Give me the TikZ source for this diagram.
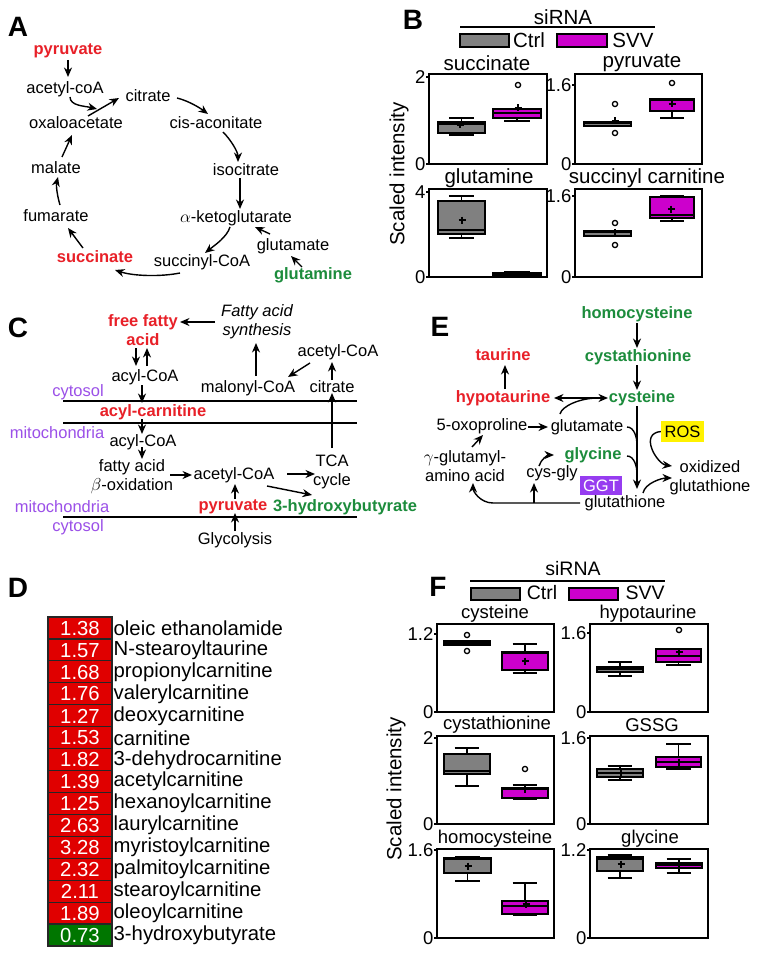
\documentclass[tikz,border=0pt]{standalone}
\usepackage{fontspec}
\setmainfont{Liberation Sans}
\usetikzlibrary{arrows.meta,calc}
\definecolor{tRed}{RGB}{232,32,40}
\definecolor{tGreen}{RGB}{28,140,60}
\definecolor{tPurple}{RGB}{155,80,232}
\definecolor{cellRed}{RGB}{224,0,0}
\definecolor{cellGreen}{RGB}{0,118,0}
\definecolor{ggtPurple}{RGB}{150,60,240}
\definecolor{boxGray}{RGB}{128,128,128}
\definecolor{boxMag}{RGB}{204,0,204}
\newcommand{\bxp}[8]{%
  \pgfmathsetmacro\bxc{(#1+#2)/2}%
  \pgfmathsetmacro\bxw{(#2-#1)*0.27}%
  \draw[bpl] (\bxc,#3) -- (\bxc,#7);
  \draw[bpl] (\bxc-\bxw,#3) -- (\bxc+\bxw,#3);
  \draw[bpl] (\bxc-\bxw,#7) -- (\bxc+\bxw,#7);
  \filldraw[bpl, fill=#8] (#1,#4) rectangle (#2,#6);
  \draw[bpl] (#1,#5) -- (#2,#5);
}
\newcommand{\mpl}[2]{\draw[bpl] (#1-3.5,#2) -- (#1+3.5,#2) (#1,#2-3.5) -- (#1,#2+3.5);}
\newcommand{\outl}[2]{\draw[bpl] (#1,#2) circle[radius=2.6];}
\newcommand{\ytk}[4]{\draw[frm] (#2,#3) -- (#2-3,#3); \node[axl] (#1) at (#2-3.5,#3) {#4};}
\begin{document}
\begin{tikzpicture}[x=1pt,y=-1pt,
  lab/.style={font=\fontsize{28}{30}\selectfont\bfseries, inner sep=0pt},
  pw/.style={font=\fontsize{16.5}{19}\selectfont, inner sep=0pt, align=center},
  pwb/.style={font=\fontsize{16.5}{19}\selectfont\bfseries, inner sep=0pt, align=center},
  rb/.style={pwb, text=tRed},
  gb/.style={pwb, text=tGreen},
  cmp/.style={pw, text=tPurple},
  ttl/.style={font=\fontsize{20.5}{22}\selectfont, inner sep=0pt},
  lgF/.style={font=\fontsize{19.5}{21}\selectfont, inner sep=0pt},
  ttlF/.style={font=\fontsize{18.5}{20}\selectfont, inner sep=0pt},
  axl/.style={font=\fontsize{18.5}{20}\selectfont, inner sep=0pt, anchor=east},
  dtxt/.style={font=\fontsize{20.3}{22}\selectfont, inner sep=0pt},
  arr/.style={-{Stealth[length=9.5pt,width=8pt]}, line width=1.4pt},
  darr/.style={{Stealth[length=9.5pt,width=8pt]}-{Stealth[length=9.5pt,width=8pt]}, line width=1.4pt},
  bpl/.style={line width=1.3pt},
  frm/.style={line width=1.8pt},
  memb/.style={line width=2.7pt}]
\useasboundingbox (0,0) rectangle (762,955);
\fill[white] (0,0) rectangle (762,955);

% ================= Panel A =================
\node[lab] (labA) at (18,27) {A};
\node[rb] (pyrA) at (68,51) {pyruvate};
\node[pw] (acoaA) at (65,89) {acetyl-coA};
\node[pw] (citA) at (148,96) {citrate};
\node[pw] (oaaA) at (76,123) {oxaloacetate};
\node[pw] (cisA) at (216,123) {cis-aconitate};
\node[pw] (isoA) at (246,170) {isocitrate};
\node[pw] (malA) at (56,168) {malate};
\node[pw] (fumA) at (56,216) {fumarate};
\node[pw] (akgA) at (236,218) {$\alpha$-ketoglutarate};
\node[pw] (gluA) at (293,246) {glutamate};
\node[rb] (sucA) at (95,257) {succinate};
\node[pw] (scoaA) at (202,262) {succinyl-CoA};
\node[gb] (glnA) at (313,275) {glutamine};
\draw[arr] ($(pyrA)+(0,9)$) -- ($(acoaA)+(3,-12)$);
\draw[arr] ($(acoaA)+(5,8)$) .. controls +(0,9) and +(-12,-3) .. ($(oaaA)+(21,-14)$);
\draw[arr] ($(oaaA)+(12,-7)$) -- ($(citA)+(-29,2)$);
\draw[arr] ($(citA)+(29,2)$) .. controls +(12,3) and +(-8,-6) .. ($(cisA)+(-8,-9)$);
\draw[arr] ($(cisA)+(7,9)$) .. controls +(8,8) and +(0,-10) .. ($(isoA)+(-8,-8)$);
\draw[arr] ($(isoA)+(-6,8)$) -- ($(akgA)+(4,-9)$);
\draw[arr] ($(akgA)+(-6,9)$) .. controls +(-3,10) and +(10,-8) .. ($(scoaA)+(3,-9)$);
\draw[arr] ($(gluA)+(-23,-12)$) -- ($(akgA)+(19,9)$);
\draw[arr] ($(glnA)+(-11,-8)$) -- ($(gluA)+(-2,10)$);
\draw[arr] ($(scoaA)+(-22,11)$) .. controls +(-20,4) and +(18,6) .. ($(sucA)+(20,13)$);
\draw[arr] ($(sucA)+(-12,-9)$) -- ($(fumA)+(12,12)$);
\draw[arr] ($(fumA)+(4,-11)$) .. controls +(-3,-10) and +(-2,8) .. ($(malA)+(2,9)$);
\draw[arr] ($(malA)+(6,-11)$) -- ($(oaaA)+(-4,12)$);

% ================= Panel B =================
\node[lab] (labB) at (413,20) {B};
\node[ttl] (siB) at (563,17) {siRNA};
\draw[bpl] (460,27) -- (655,27);
\draw[bpl, fill=boxGray] (460,34) rectangle (509,47);
\node[ttl] (ctB) at (529,40) {Ctrl};
\draw[bpl, fill=boxMag] (557,34) rectangle (607,47);
\node[ttl] (svB) at (633,40) {SVV};
\node[ttl, rotate=90] (siyB) at (399,174) {Scaled intensity};
\node[ttl] (tB1) at (487,63) {succinate};
\node[ttl] (tB2) at (642,63) {pyruvate};
\node[ttl] (tB3) at (489,178) {glutamine};
\node[ttl] (tB4) at (647,178) {succinyl carnitine};
\draw[frm] (429,74) rectangle (547,164);
\draw[frm] (575,74) rectangle (702,164);
\draw[frm] (429,189) rectangle (547,277);
\draw[frm] (575,189) rectangle (702,277);
\ytk{kB1a}{429}{77}{2}
\ytk{kB1b}{429}{164}{0}
\ytk{kB2a}{575}{85}{1.6}
\ytk{kB2b}{575}{164}{0}
\ytk{kB3a}{429}{192}{4}
\ytk{kB3b}{429}{277}{0}
\ytk{kB4a}{575}{196}{1.6}
\ytk{kB4b}{575}{277}{0}
\bxp{438}{485}{118}{122}{124}{133}{135}{boxGray} \mpl{460}{125}
\bxp{493}{541}{109}{109}{113}{118}{121}{boxMag} \mpl{518}{108} \outl{518}{85}
\bxp{584}{631}{122}{122}{123}{126}{126}{boxGray} \mpl{615}{121} \outl{615}{104} \outl{615}{133}
\bxp{650}{694}{99}{99}{100}{111}{118}{boxMag} \mpl{672}{104} \outl{672}{83}
\bxp{438}{485}{196}{201}{230}{234}{238}{boxGray} \mpl{462}{220}
\bxp{493}{541}{272}{273}{275}{277}{277}{boxMag}
\bxp{584}{631}{231}{231}{232}{236}{236}{boxGray} \mpl{615}{232} \outl{615}{223} \outl{615}{245}
\bxp{650}{694}{196}{197}{215}{218}{221}{boxMag} \mpl{671}{209}

% ================= Panel C =================
\node[lab] (labC) at (18,328) {C};
\node[rb] (ffa) at (143,330) {free fatty\\acid};
\node[pw, font=\fontsize{16.5}{19}\selectfont\itshape] (fas) at (257,322) {Fatty acid\\synthesis};
\node[pw] (acoaC1) at (145,377) {acyl-CoA};
\node[pw] (acetC1) at (338,352) {acetyl-CoA};
\node[pw] (malC) at (248,388) {malonyl-CoA};
\node[pw] (citC) at (332,387) {citrate};
\node[cmp] (cytC1) at (78,392) {cytosol};
\node[rb] (acarC) at (153,412) {acyl-carnitine};
\node[cmp] (mitoC1) at (57,433) {mitochondria};
\node[pw] (acoaC2) at (143,442) {acyl-CoA};
\node[pw] (faox) at (132,477) {fatty acid\\$\beta$-oxidation};
\node[pw] (acetC2) at (234,475) {acetyl-CoA};
\node[pw] (tca) at (332,472) {TCA\\cycle};
\node[rb] (pyrC) at (233,507) {pyruvate};
\node[gb] (hbC) at (345,507) {3-hydroxybutyrate};
\node[cmp] (mitoC2) at (62,507) {mitochondria};
\node[cmp] (cytC2) at (78,527) {cytosol};
\node[pw] (glyC) at (235,540) {Glycolysis};
\draw[memb] (63,401) -- (357,401);
\draw[memb] (63,423) -- (357,423);
\draw[memb] (63,517) -- (357,517);
\draw[arr] ($(fas)+(-42,0)$) -- ($(ffa)+(37,-8)$);
\draw[arr] ($(ffa)+(-7,18)$) -- ($(acoaC1)+(-9,-11)$);
\draw[arr] ($(acoaC1)+(2,-11)$) -- ($(ffa)+(4,18)$);
\draw[arr] ($(malC)+(8,-12)$) -- ($(fas)+(-1,21)$);
\draw[arr] ($(acetC1)+(-28,11)$) -- ($(malC)+(40,-11)$);
\draw[arr] ($(citC)+(0,-7)$) -- ($(acetC1)+(-6,10)$);
\draw[arr] ($(acoaC1)+(-3,8)$) -- ($(acarC)+(-11,-9)$);
\draw[arr] ($(acarC)+(-11,7)$) -- ($(acoaC2)+(-1,-8)$);
\draw[arr] ($(acoaC2)+(-1,5)$) -- ($(faox)+(10,-18)$);
\draw[arr] ($(faox)+(38,-2)$) -- ($(acetC2)+(-42,0)$);
\draw[arr] ($(acetC2)+(53,-1)$) -- ($(tca)+(-17,2)$);
\draw[arr] ($(tca)+(0,-24)$) -- ($(citC)+(0,6)$);
\draw[arr] ($(acetC2)+(33,11)$) -- ($(hbC)+(-33,-12)$);
\draw[arr] ($(pyrC)+(2,-8)$) -- ($(acetC2)+(1,9)$);
\draw[arr] ($(glyC)+(0,-9)$) -- ($(pyrC)+(2,6)$);

% ================= Panel D =================
\node[lab] (labD) at (18,588) {D};
\foreach \v/\n/\c [count=\i] in {1.38/oleic ethanolamide/cellRed, 1.57/N-stearoyltaurine/cellRed,
  1.68/propionylcarnitine/cellRed, 1.76/valerylcarnitine/cellRed, 1.27/deoxycarnitine/cellRed,
  1.53/carnitine/cellRed, 1.82/3-dehydrocarnitine/cellRed, 1.39/acetylcarnitine/cellRed,
  1.25/hexanoylcarnitine/cellRed, 2.63/laurylcarnitine/cellRed, 3.28/myristoylcarnitine/cellRed,
  2.32/palmitoylcarnitine/cellRed, 2.11/stearoylcarnitine/cellRed, 1.89/oleoylcarnitine/cellRed,
  0.73/3-hydroxybutyrate/cellGreen}{
  \pgfmathsetmacro\rt{617+(\i-1)*21.93}
  \pgfmathsetmacro\rb{\rt+21.93}
  \pgfmathsetmacro\rc{\rt+11.2}
  \filldraw[fill=\c, draw=black!85, line width=1.2pt] (48,\rt) rectangle (112,\rb);
  \node[dtxt, text=white] (dv\i) at (80,\rc) {\v};
  \node[dtxt, anchor=west] (dn\i) at (113.5,\rc) {\n};
}

% ================= Panel E =================
\node[lab] (labE) at (440,327) {E};
\node[gb] (hcy) at (637,314) {homocysteine};
\node[gb] (cth) at (638,357) {cystathionine};
\node[gb] (cys) at (642,398) {cysteine};
\node[rb] (tau) at (503,355) {taurine};
\node[rb] (hyp) at (503,398) {hypotaurine};
\node[pw] (oxo) at (482,426) {5-oxoproline};
\node[pw] (gluE) at (587,427) {glutamate};
\node[pw] (ggl) at (465,466) {$\gamma$-glutamyl-\\amino acid};
\node[gb] (gly) at (593,455) {glycine};
\node[pw] (cgl) at (552,473) {cys-gly};
\node[pw, fill=ggtPurple, text=white, minimum width=42pt, minimum height=19pt] (ggt) at (601,485.5) {GGT};
\node[pw] (gsh) at (625,503) {glutathione};
\node[pw, fill=yellow, minimum width=43pt, minimum height=21pt] (ros) at (682.5,431.5) {ROS};
\node[pw] (oxg) at (710,478) {oxidized\\glutathione};
\coordinate (m1) at (637,445);
\coordinate (m2) at (637,474);
\coordinate (g1) at (534,503);
\coordinate (g2) at (493,503);
\draw[arr] ($(hcy)+(0,9)$) -- ($(cth)+(-1,-9)$);
\draw[arr] ($(cth)+(-1,8)$) -- ($(cys)+(-5,-8)$);
\draw[arr] ($(hyp)+(2,-9)$) -- ($(tau)+(2,10)$);
\draw[darr] ($(hyp)+(51,0)$) -- ($(cys)+(-34,0)$);
\draw[line width=1.4pt] ($(gluE)+(-27,-13)$) .. controls +(2,-8) and +(-18,0) .. ($(cys)+(-44,0)$);
\draw[arr] ($(oxo)+(46,1)$) -- ($(gluE)+(-39,0)$);
\draw[arr] ($(ggl)+(7,-19)$) -- ($(oxo)+(1,9)$);
\draw[arr] ($(cgl)+(-13,-7)$) .. controls +(2,-7) and +(-6,0) .. ($(gly)+(-39,0)$);
\draw[arr] ($(cys)+(-5,8)$) -- ($(gsh)+(12,-14)$);
\draw[line width=1.4pt] ($(gluE)+(40,0)$) .. controls +(7,0) and +(0,-8) .. (m1);
\draw[line width=1.4pt] ($(gly)+(34,1)$) .. controls +(7,0) and +(0,-8) .. (m2);
\draw[arr] (ros.west) .. controls +(-22,2) and +(-15,-2) .. ($(oxg)+(-38,-12)$);
\draw[arr] ($(gsh)+(18,-10)$) .. controls +(2,-10) and +(-10,0) .. ($(oxg)+(-38,0)$);
\draw[arr] ($(gsh)+(-45,0)$) -- (g1) -- (g2) .. controls +(-13,0) and +(0,8) .. ($(ggl)+(8,17)$);
\draw[arr] (g1) -- ($(cgl)+(-18,10)$);

% ================= Panel F =================
\node[lab] (labF) at (438,587) {F};
\node[lgF] (siF) at (573,569) {siRNA};
\draw[bpl] (470,581) -- (665,581);
\draw[bpl, fill=boxGray] (471,588) rectangle (520,600);
\node[lgF] (ctF) at (542,593) {Ctrl};
\draw[bpl, fill=boxMag] (569,588) rectangle (618,600);
\node[lgF] (svF) at (645,593) {SVV};
\node[ttl, rotate=90] (siyF) at (396,789) {Scaled intensity};
\node[ttlF] (tF1) at (495,614) {cysteine};
\node[ttlF] (tF2) at (648,614) {hypotaurine};
\node[ttlF] (tF3) at (497,725) {cystathionine};
\node[ttlF] (tF4) at (652,725) {GSSG};
\node[ttlF] (tF5) at (495,839) {homocysteine};
\node[ttlF] (tF6) at (650,839) {glycine};
\draw[frm] (437,624) rectangle (554,712);
\draw[frm] (590,624) rectangle (708,712);
\draw[frm] (437,736) rectangle (554,824);
\draw[frm] (590,736) rectangle (708,824);
\draw[frm] (437,849) rectangle (554,938);
\draw[frm] (590,849) rectangle (708,938);
\ytk{kF1a}{437}{634}{1.2}
\ytk{kF1b}{437}{712}{0}
\ytk{kF2a}{590}{633}{1.6}
\ytk{kF2b}{590}{712}{0}
\ytk{kF3a}{437}{738}{2}
\ytk{kF3b}{437}{824}{0}
\ytk{kF4a}{590}{738}{1.6}
\ytk{kF4b}{590}{824}{0}
\ytk{kF5a}{437}{850}{1.6}
\ytk{kF5b}{437}{938}{0}
\ytk{kF6a}{590}{850}{1.2}
\ytk{kF6b}{590}{938}{0}
\bxp{444}{490}{641}{641}{643}{645}{645}{boxGray} \outl{467}{635} \outl{467}{651}
\bxp{502}{548}{644}{652}{653}{670}{673}{boxMag} \mpl{525}{661}
\bxp{597}{643}{662}{667}{669}{672}{676}{boxGray}
\bxp{656}{701}{649}{649}{656}{662}{665}{boxMag} \mpl{679}{652} \outl{679}{630}
\bxp{444}{490}{748}{754}{771}{774}{786}{boxGray}
\bxp{502}{548}{785}{788}{789}{798}{799}{boxMag} \mpl{525}{789} \outl{525}{769}
\bxp{597}{643}{766}{769}{773}{777}{780}{boxGray} \mpl{621}{773}
\bxp{656}{701}{744}{757}{762}{767}{769}{boxMag} \mpl{679}{762}
\bxp{444}{491}{857}{858}{859}{873}{881}{boxGray} \mpl{468}{866}
\bxp{502}{548}{883}{901}{906}{914}{915}{boxMag} \mpl{526}{904}
\bxp{597}{643}{855}{857}{859}{871}{878}{boxGray} \mpl{621}{864}
\bxp{656}{702}{859}{863}{865}{868}{873}{boxMag} \mpl{679}{864}
\end{tikzpicture}
\end{document}
